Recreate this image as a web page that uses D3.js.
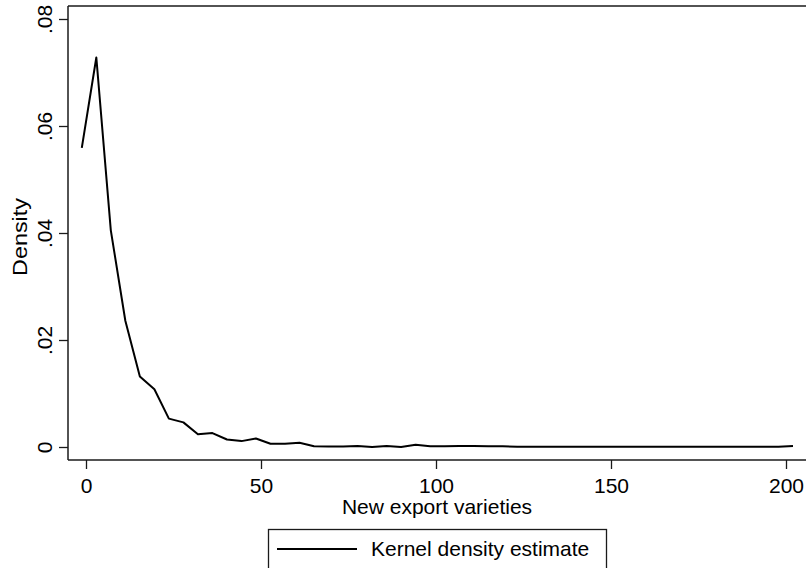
<!DOCTYPE html>
<html>
<head>
<meta charset="utf-8">
<script src="https://cdn.jsdelivr.net/npm/d3@7"></script>
<style>
  html, body { margin: 0; padding: 0; background: #fff; }
  svg { display: block; }
  text { font-family: "Liberation Sans", Arial, sans-serif; fill: #000; }
</style>
</head>
<body>
<svg id="chart" width="806" height="568"></svg>
<script>
// Grid points of the kernel density estimate (new export varieties)
const xGrid = [-1.2, 2.95, 7.09, 11.24, 15.39, 19.54, 23.68, 27.83, 31.98, 36.12,
  40.27, 44.42, 48.56, 52.71, 56.86, 61.01, 65.15, 69.30, 73.45, 77.59,
  81.74, 85.89, 90.03, 94.18, 98.33, 102.48, 106.62, 110.77, 114.92, 119.06,
  123.21, 127.36, 131.50, 135.65, 139.80, 143.95, 148.09, 152.24, 156.39, 160.53,
  164.68, 168.83, 172.97, 177.12, 181.27, 185.42, 189.56, 193.71, 197.86, 202.0];
const density = [0.0559, 0.0728, 0.0405, 0.0236, 0.0132, 0.0108, 0.0053, 0.0046, 0.0024, 0.0026,
  0.0014, 0.0011, 0.0016, 0.0006, 0.0006, 0.0008, 0.00015, 0.0001, 0.0001, 0.0002,
  0.0000, 0.0002, 0.0000, 0.0004, 0.00015, 0.00015, 0.0002, 0.0002, 0.00015, 0.00015,
  0.00005, 0.00005, 0.00005, 0.00005, 0.00005, 0.00005, 0.00005, 0.00005, 0.00005, 0.00005,
  0.00005, 0.00005, 0.00005, 0.00005, 0.00005, 0.00005, 0.00005, 0.00005, 0.00005, 0.0002];
const xTicks = [0, 50, 100, 150, 200];
const yTicks = [0, 0.02, 0.04, 0.06, 0.08];
const yTickLabels = ["0", ".02", ".04", ".06", ".08"];
const xTitle = "New export varieties";
const yTitle = "Density";
const legendLabel = "Kernel density estimate";

const svg = d3.select("#chart");
const plot = { left: 68, right: 806, top: 6, bottom: 460 };

const x = d3.scaleLinear().domain([0, 200]).range([86, 786]);
const y = d3.scaleLinear().domain([0, 0.08]).range([447, 19]);

const axisColor = "#1a1a1a";
const fs = 21;

// frame (top)
svg.append("line").attr("x1", plot.left).attr("x2", plot.right)
  .attr("y1", plot.top).attr("y2", plot.top)
  .attr("stroke", axisColor).attr("stroke-width", 1.5);

// x axis
const xAxis = d3.axisBottom(x).tickValues(xTicks).tickSize(9).tickPadding(6)
  .tickFormat(d3.format("d"));
const gx = svg.append("g").attr("transform", `translate(0,${plot.bottom})`).call(xAxis);
gx.select(".domain").remove();
gx.selectAll(".tick line").attr("stroke", axisColor).attr("stroke-width", 1.3);
gx.selectAll(".tick text").attr("font-size", fs).attr("font-family", "Liberation Sans, Arial, sans-serif")
  .attr("fill", "#000").attr("dy", null).attr("y", 33);
svg.append("line").attr("x1", plot.left).attr("x2", plot.right)
  .attr("y1", plot.bottom).attr("y2", plot.bottom)
  .attr("stroke", axisColor).attr("stroke-width", 1.5);

// y axis
const yAxis = d3.axisLeft(y).tickValues(yTicks).tickSize(9)
  .tickFormat((d, i) => yTickLabels[i]);
const gy = svg.append("g").attr("transform", `translate(${plot.left},0)`).call(yAxis);
gy.select(".domain").remove();
gy.selectAll(".tick line").attr("stroke", axisColor).attr("stroke-width", 1.3);
gy.selectAll(".tick text").attr("font-size", fs).attr("font-family", "Liberation Sans, Arial, sans-serif")
  .attr("fill", "#000")
  .attr("x", null).attr("dy", null)
  .attr("text-anchor", "middle")
  .attr("transform", "translate(-16,0) rotate(-90)");
svg.append("line").attr("x1", plot.left).attr("x2", plot.left)
  .attr("y1", plot.top).attr("y2", plot.bottom)
  .attr("stroke", axisColor).attr("stroke-width", 1.5);

// density curve
const line = d3.line().x((d, i) => x(xGrid[i])).y(d => y(d));
svg.append("path").datum(density).attr("d", line)
  .attr("fill", "none").attr("stroke", "#000").attr("stroke-width", 2)
  .attr("stroke-linejoin", "round");

// titles
svg.append("text").attr("x", (plot.left + plot.right) / 2).attr("y", 514)
  .attr("text-anchor", "middle").attr("font-size", fs).text(xTitle);
svg.append("text").attr("transform", `translate(27,237) rotate(-90)`)
  .attr("text-anchor", "middle").attr("font-size", fs)
  .attr("textLength", 78).attr("lengthAdjust", "spacingAndGlyphs").text(yTitle);

// legend
const lg = svg.append("g");
lg.append("rect").attr("x", 268.5).attr("y", 529.5).attr("width", 338).attr("height", 60)
  .attr("fill", "#fff").attr("stroke", axisColor).attr("stroke-width", 1.3);
lg.append("line").attr("x1", 277).attr("x2", 357).attr("y1", 549).attr("y2", 549)
  .attr("stroke", "#000").attr("stroke-width", 2);
lg.append("text").attr("x", 371).attr("y", 556).attr("font-size", fs).text(legendLabel);
</script>
</body>
</html>
